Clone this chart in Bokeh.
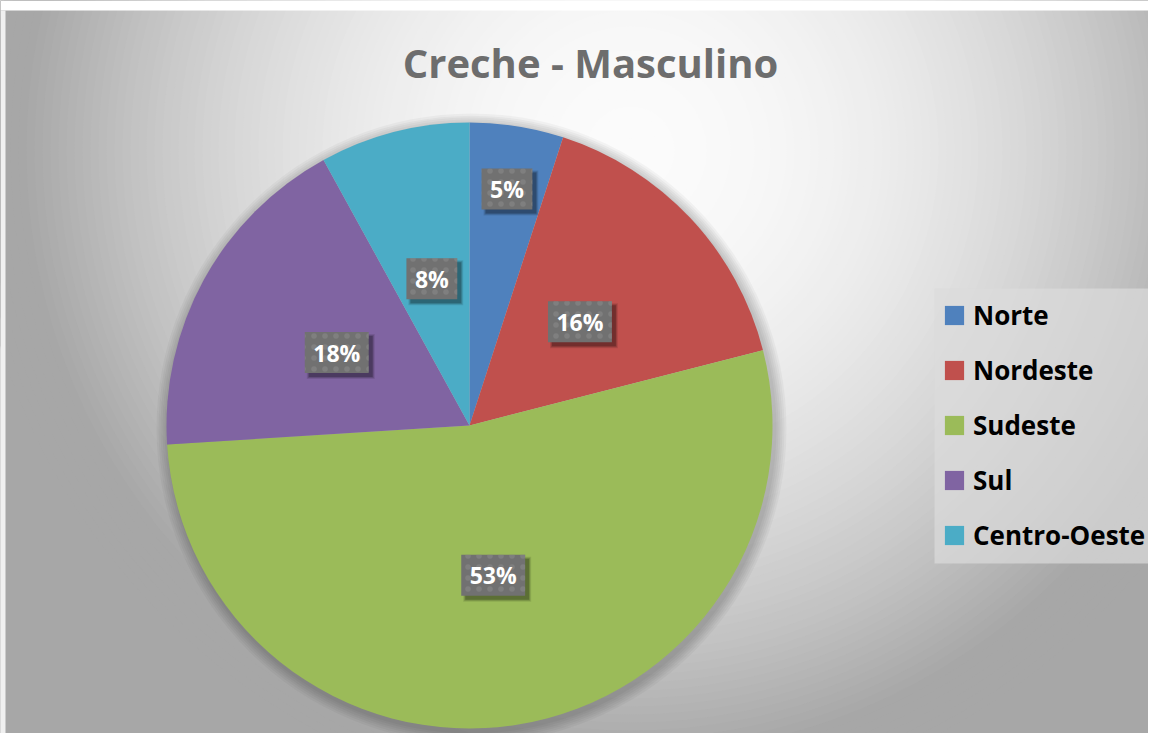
import math
from bokeh.plotting import figure
from bokeh.models import Range1d
from bokeh.core.properties import value
from bokeh.embed import file_html
from bokeh.resources import INLINE

# ---- data ----
regions = ["Norte", "Nordeste", "Sudeste", "Sul", "Centro-Oeste"]
percent = [5, 16, 53, 18, 8]
colors = ["#4F81BD", "#C0504D", "#9BBB59", "#8064A2", "#4BACC6"]
title_text = "Creche - Masculino"

# ---- layout: 1 data unit = 1 screen px ----
W, H = 1148, 733
def Y(img_y):
    return H - img_y

cx, cy, R = 469, Y(425), 303
label_r = [0.79, 0.5, 0.5, 0.5, 0.5]

p = figure(width=W, height=H, x_range=Range1d(0, W), y_range=Range1d(0, H),
           output_backend="svg", toolbar_location=None, min_border=0)
p.axis.visible = False
p.grid.visible = False
p.outline_line_color = None
p.background_fill_color = "#a7a7a7"
p.border_fill_color = "#a7a7a7"

# radial background gradient (decorative)
gx, gy = 630, Y(150)
radii, fills = [], []
r = 660
while r > 0:
    t = min((r / 610.0) ** 2, 1.0)
    b = int(round(251 - 84 * t))
    radii.append(r)
    fills.append("#%02x%02x%02x" % (b, b, b))
    r -= 8
p.circle(x=[gx] * len(radii), y=[gy] * len(radii), radius=radii,
         fill_color=fills, line_color=None)

# thin white strip at the very top and light left edge of the chart frame
p.quad(left=0, right=W, bottom=Y(10), top=H, fill_color="white", line_color=None)
p.quad(left=0, right=5, bottom=0, top=Y(10), fill_color="#f0f0f0", line_color=None)

# legend background panel
p.quad(left=934, right=1162, bottom=Y(563), top=Y(288), fill_color="#dcdcdc",
       fill_alpha=0.7, line_color=None)

# soft shadow around pie
sh_r = [R + k for k in range(12, 0, -2)]
p.circle(x=[cx + 2] * len(sh_r), y=[cy - 3] * len(sh_r), radius=sh_r,
         fill_color="black", fill_alpha=0.035, line_color=None)

# pie wedges
total = float(sum(percent))
cum = 0.0
lab_x, lab_y, lab_t = [], [], []
for name, v, c, lr in zip(regions, percent, colors, label_r):
    f0 = cum / total
    f1 = (cum + v) / total
    cum += v
    a0 = math.pi / 2 - f0 * 2 * math.pi
    a1 = math.pi / 2 - f1 * 2 * math.pi
    p.wedge(x=cx, y=cy, radius=R, start_angle=a0, end_angle=a1, direction="clock",
            fill_color=c, line_color=None, legend_label=name)
    am = math.pi / 2 - (f0 + f1) / 2 * 2 * math.pi
    lab_x.append(cx + lr * R * math.cos(am))
    lab_y.append(cy + lr * R * math.sin(am))
    lab_t.append("%d%%" % v)

# data label boxes
fs = 23
box_w = [0.57 * fs * (len(t) - 1) + 0.9 * fs + 17 for t in lab_t]
box_h = 41
for off, al in [(7, 0.10), (5, 0.15), (3, 0.22)]:
    p.rect(x=[x + 4 for x in lab_x], y=[y - 4 for y in lab_y],
           width=[w + off - 3 for w in box_w], height=box_h + off - 3,
           fill_color="black", fill_alpha=al, line_color=None)
p.rect(x=lab_x, y=lab_y, width=box_w, height=box_h, fill_color="#717171",
       line_color=None, hatch_pattern="dot", hatch_color="#8a8a8a",
       hatch_scale=11, hatch_alpha=0.55, hatch_weight=2)
p.text(x=lab_x, y=lab_y, text=lab_t, text_align="center", text_baseline="middle",
       text_font=value("Open Sans"), text_font_style="bold",
       text_font_size="%dpx" % fs, text_color="white")

# title
p.text(x=[590], y=[Y(62)], text=[title_text], text_align="center",
       text_baseline="middle", text_font=value("Open Sans"),
       text_font_style="bold", text_font_size="40px", text_color="#6d6d6d")

# legend (panel drawn above as a quad)
lg = p.legend[0]
lg.location = (942, 180)
lg.label_text_font = "Open Sans"
lg.label_text_font_style = "bold"
lg.label_text_font_size = "26px"
lg.label_text_color = "black"
lg.glyph_width = 24
lg.glyph_height = 24
lg.label_height = 32
lg.spacing = 19
lg.padding = 21
lg.margin = 0
lg.label_standoff = 7
lg.background_fill_alpha = 0
lg.border_line_color = None

open("out.html", "w").write(file_html(p, INLINE))
